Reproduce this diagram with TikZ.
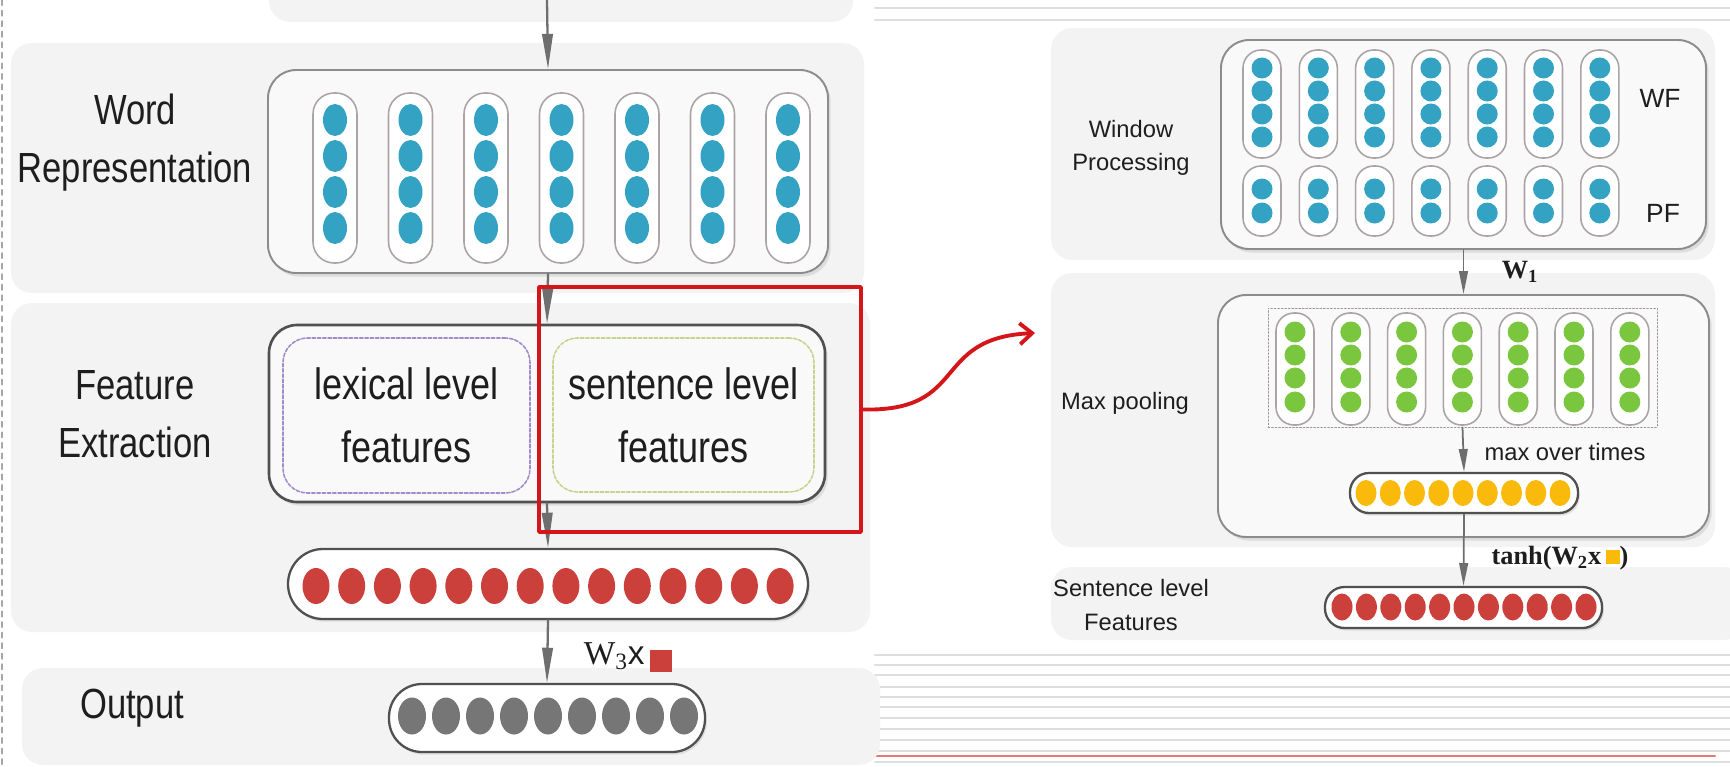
\documentclass[tikz,border=0pt]{standalone}
\usepackage{fontspec}
\setmainfont{Liberation Sans}
\newfontfamily\narrowsans[FakeStretch=0.82]{Liberation Sans}
\newfontfamily\serifface{Liberation Serif}
\usepackage{tikz}
\usetikzlibrary{arrows.meta,calc,fit,positioning,shadows}
\usepackage{xcolor}
\definecolor{panelbg}{RGB}{243,243,244}
\definecolor{boxfill}{RGB}{249,249,250}
\definecolor{boxline}{RGB}{140,140,140}
\definecolor{darkline}{RGB}{80,80,80}
\definecolor{pillline}{RGB}{172,164,164}
\definecolor{arrowgray}{RGB}{110,110,110}
\definecolor{textblack}{RGB}{30,30,30}
\definecolor{wordblue}{RGB}{52,163,195}
\definecolor{poolgreen}{RGB}{122,198,62}
\definecolor{maxyellow}{RGB}{250,186,12}
\definecolor{featred}{RGB}{204,64,60}
\definecolor{outgray}{RGB}{118,118,118}
\definecolor{zoomred}{RGB}{212,22,26}
\definecolor{lexpurple}{RGB}{160,140,200}
\definecolor{sentgreen}{RGB}{196,212,140}
\definecolor{stripe}{RGB}{222,222,222}
\definecolor{stripered}{RGB}{232,120,120}
\newcommand{\px}{0.02cm}
\newcommand{\VecDot}[4]{\fill[#1] (#2) ellipse [x radius=#3*\px, y radius=#4*\px];}
\tikzset{
  panel/.style={fill=panelbg,rounded corners=12pt,inner sep=0pt},
  layer box/.style={draw=boxline,line width=1.1pt,fill=boxfill,rounded corners=16pt,inner sep=0pt,
    drop shadow={shadow xshift=1.5pt,shadow yshift=-2pt,opacity=.2}},
  feature box/.style={layer box,draw=darkline,line width=1.5pt},
  level box/.style={draw=#1,line width=.9pt,dash pattern=on 2pt off 1pt,rounded corners=14pt,inner sep=0pt,fill=boxfill},
  vec box/.style={draw=darkline,line width=1.3pt,fill=white,inner sep=0pt,rounded corners=#1,
    drop shadow={shadow xshift=1pt,shadow yshift=-1.5pt,opacity=.2}},
  pill/.style={draw=pillline,line width=.9pt,fill=white,inner sep=0pt},
  grid box/.style={draw=black!40,line width=.5pt,dash pattern=on 1pt off 1pt,inner sep=0pt},
  flow arrow/.style={draw=arrowgray,line width=1.3pt,-{Triangle[length=20pt,width=6pt]}},
  small flow/.style={draw=arrowgray,line width=1pt,-{Triangle[length=13pt,width=5pt]}},
  layer label/.style={font=\narrowsans\fontsize{24}{33}\selectfont,align=center,text=textblack},
  level text/.style={font=\narrowsans\fontsize{25}{36}\selectfont,align=center,text=textblack},
  small label/.style={font=\fontsize{13.5}{19}\selectfont,align=center,text=textblack},
  weight label/.style={font=\serifface\bfseries\fontsize{15}{17}\selectfont,text=textblack,inner sep=0pt},
  zoom box/.style={draw=zoomred,line width=2pt,inner sep=0pt},
  zoom arrow/.style={draw=zoomred,line width=2.2pt,-{Straight Barb[length=7pt,width=12pt]}},
  stripe line/.style={draw=stripe,line width=1.2pt},
  edge mark/.style={draw=black!35,line width=1pt,dash pattern=on 3pt off 3pt}
}

\begin{document}
\begin{tikzpicture}[x=\px,y=-\px,line cap=round,line join=round]
\useasboundingbox (0,0) rectangle (1730,767);

\draw[edge mark] (2,0) -- (2,767);
\foreach \y in {8,20,655,665,675,687,697,707,718,729,740,751,762}
  {\draw[stripe line] (875,\y) -- (1730,\y);}
\draw[stripe line,draw=stripered] (875,756) -- (1715,756);

\node[panel,fit={(269,-30) (853,22)}] (prevpanel) {};
\node[panel,fit={(11,43) (864,293)}] (wordpanel) {};
\node[panel,fit={(11,303) (870,632)}] (featpanel) {};
\node[panel,fit={(22,668) (880,765)}] (outpanel) {};

\node[layer box,fit={(268,70) (828,273)}] (wordbox) {};
\foreach \i [evaluate=\i as \cx using 335+75.5*\i] in {0,...,6} {
  \node[pill,rounded corners=.42cm,fit={(\cx-22,93) (\cx+22,263)}] (wp\i) {};
  \foreach \y in {120,156,192,228} {\VecDot{wordblue}{\cx,\y}{12}{16}}
}

\node[feature box,fit={(269,325) (825,502)}] (featbox) {};
\node[level box=lexpurple,fit={(283,338) (530,493)}] (lexbox) {};
\node[level box=sentgreen,fit={(553,338) (814,492)}] (sentbox) {};
\node[level text] (lexlbl) at (lexbox.center) {lexical level\\features};
\node[level text] (sentlbl) at (sentbox.center) {sentence level\\features};

\node[vec box=.7cm,fit={(288,549) (808,619)}] (featvec) {};
\foreach \i in {0,...,13} {\VecDot{featred}{316+35.7*\i,586}{13.5}{18}}
\node[vec box=.66cm,fit={(389,684) (705,752)}] (outvec) {};
\foreach \i in {0,...,8} {\VecDot{outgray}{412+34*\i,716}{14}{18.5}}

\node[layer label] (wordlbl) at (135,143) {Word\\Representation};
\node[layer label] (featlbl) at (135,414) {Feature\\Extraction};
\node[layer label] (outlbl) at (132,708) {Output};

\coordinate (topin) at (547,0);
\draw[flow arrow] (topin) -- (wordbox.north);
\draw[flow arrow] (wordbox.south) -- (featbox.north);
\draw[flow arrow] (featbox.south) -- (featvec.north);
\draw[flow arrow] (featvec.south) -- (outvec.north);
\node[font=\fontsize{19}{21}\selectfont,text=textblack,inner sep=0pt] (wthreelbl) at (628,657)
  {{\serifface W\textsubscript{3}}x\,\raisebox{-.15cm}{\textcolor{featred}{\rule{.44cm}{.44cm}}}};

\node[panel,fit={(1051,28) (1715,260)}] (winpanel) {};
\node[panel,fit={(1051,273) (1715,547)}] (poolpanel) {};
\node[panel,fit={(1051,567) (1745,640)}] (sentpanel) {};

\node[layer box,fit={(1221,40) (1706,249)}] (winbox) {};
\foreach \i [evaluate=\i as \cx using 1262+56.3*\i] in {0,...,6} {
  \node[pill,rounded corners=.36cm,fit={(\cx-19,50) (\cx+19,158)}] (wf\i) {};
  \foreach \y in {68,91,114,137} {\VecDot{wordblue}{\cx,\y}{10.5}{10.5}}
  \node[pill,rounded corners=.36cm,fit={(\cx-19,166) (\cx+19,236)}] (pf\i) {};
  \foreach \y in {189,213} {\VecDot{wordblue}{\cx,\y}{10.5}{10.5}}
}
\node[small label,font=\fontsize{15}{17}\selectfont] (wflbl) at (1660,98) {WF};
\node[small label,font=\fontsize{15}{17}\selectfont] (pflbl) at (1663,213) {PF};
\node[small label] (winlbl) at (1131,148) {Window\\Processing};

\node[layer box,fit={(1218,295) (1709,537)}] (poolbox) {};
\node[grid box,fit={(1268,308) (1657,427)}] (poolgrid) {};
\foreach \i [evaluate=\i as \cx using 1295+55.8*\i] in {0,...,6} {
  \node[pill,rounded corners=.36cm,fit={(\cx-19,313) (\cx+19,425)}] (gp\i) {};
  \foreach \y in {332,355,378,402} {\VecDot{poolgreen}{\cx,\y}{10.5}{10.5}}
}
\node[small label] (poollbl) at (1125,403) {Max pooling};
\node[vec box=.38cm,fit={(1350,473) (1578,513)}] (maxvec) {};
\foreach \i in {0,...,8} {\VecDot{maxyellow}{1366+24.25*\i,493}{10.5}{13}}
\node[small label] (maxlbl) at (1565,452) {max over times};

\node[vec box=.39cm,fit={(1325,587) (1602,628)}] (sentvec) {};
\foreach \i in {0,...,10} {\VecDot{featred}{1342+24.4*\i,607}{10.5}{13.5}}
\node[small label] (sentfeatlbl) at (1131,605) {Sentence level\\Features};

\draw[small flow] (winbox.south) -- (poolbox.north);
\draw[small flow] (poolgrid.south) -- (maxvec.north);
\draw[small flow] (maxvec.south) -- (sentvec.north);
\node[weight label] (wonelbl) at (1520,272) {W\textsubscript{1}};
\node[weight label] (tanhlbl) at (1560,558)
  {tanh(W\textsubscript{2}x\,\textcolor{maxyellow}{\rule{.28cm}{.28cm}})};

\node[zoom box,fit={(539,287) (861,532)}] (zoomrect) {};
\coordinate (zoomtip) at (1035,333);
\draw[zoom arrow] (zoomrect.east) .. controls (970,412) and (930,338) .. (zoomtip);
\end{tikzpicture}
\end{document}
